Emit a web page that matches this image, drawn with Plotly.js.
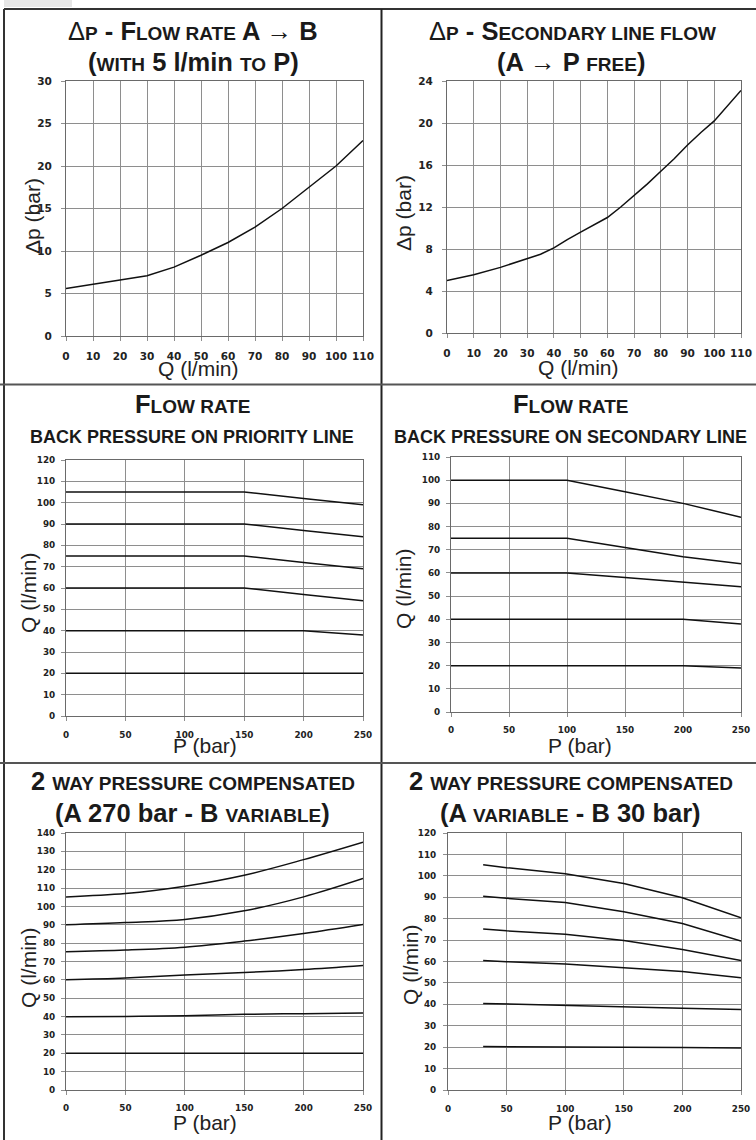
<!DOCTYPE html>
<html>
<head>
<meta charset="utf-8">
<script src="https://cdn.plot.ly/plotly-3.0.1.min.js"></script>
<style>html,body{margin:0;padding:0;background:#fff;}#chart{width:756px;height:1140px;}</style>
</head>
<body>
<div id="chart"></div>
<script>
// ---- Panel 1: Δp - flow rate A→B (with 5 l/min to P)
const qAB  = [0, 10, 20, 30, 40, 50, 60, 70, 80, 90, 100, 110];
const dpAB = [5.6, 6.1, 6.6, 7.1, 8.1, 9.5, 11.0, 12.8, 15.0, 17.5, 20.0, 23.0];

// ---- Panel 2: Δp - secondary line flow (A→P free)
const qSec  = [0, 10, 20, 30, 35, 40, 45, 50, 55, 60, 65, 70, 75, 80, 85, 90, 95, 100, 105, 110];
const dpSec = [5.0, 5.55, 6.25, 7.05, 7.5, 8.1, 8.9, 9.6, 10.3, 11.0, 12.0, 13.1, 14.2, 15.4, 16.6, 17.9, 19.1, 20.2, 21.6, 23.1];

// ---- Panel 3: flow rate, back pressure on priority line
const pPri   = [0, 150, 200, 250];
const pri105 = [105, 105, 102, 99];
const pri90  = [90, 90, 87, 84];
const pri75  = [75, 75, 72, 69];
const pri60  = [60, 60, 57, 54];
const pri40  = [40, 40, 40, 38];
const pri20  = [20, 20, 20, 20];

// ---- Panel 4: flow rate, back pressure on secondary line
const pSecBP = [0, 100, 150, 200, 250];
const sec100 = [100, 100, 95, 90, 84];
const sec75  = [75, 75, 71, 67, 64];
const sec60  = [60, 60, 58, 56, 54];
const sec40  = [40, 40, 40, 40, 38];
const sec20  = [20, 20, 20, 20, 19];

// ---- Panel 5: 2 way pressure compensated (A 270 bar - B variable)
const pB       = [0, 50, 100, 150, 200, 250];
const compB105 = [105.2, 107, 111, 117, 125.5, 135];
const compB90  = [90, 91.2, 92.9, 97.6, 105.2, 115.2];
const compB75  = [75.3, 76.2, 77.8, 81.1, 85.2, 90.1];
const compB60  = [60, 61, 62.6, 64, 65.6, 67.8];
const compB40  = [39.9, 40.1, 40.4, 41.2, 41.6, 42];
const compB20  = [20, 20, 20, 20, 20, 20];

// ---- Panel 6: 2 way pressure compensated (A variable - B 30 bar)
const pA       = [30, 50, 100, 150, 200, 250];
const compA105 = [105.2, 103.8, 101, 96.4, 89.8, 80.4];
const compA90  = [90.5, 89.5, 87.5, 83.2, 77.7, 69.5];
const compA75  = [75.2, 74.3, 72.7, 69.8, 65.6, 60.5];
const compA60  = [60.5, 59.9, 58.8, 57.2, 55.3, 52.4];
const compA40  = [40.4, 40.1, 39.6, 38.9, 38.2, 37.6];
const compA20  = [20.3, 20.2, 20.1, 20.0, 19.8, 19.6];

// ---- tick values
const ticksQ110 = [0, 10, 20, 30, 40, 50, 60, 70, 80, 90, 100, 110];
const ticksP250 = [0, 50, 100, 150, 200, 250];

const W = 756, H = 1140;
const xd = (a, b) => [a / W, b / W];
const yd = (top, bot) => [1 - bot / H, 1 - top / H];
const px = x => x / W;
const py = y => 1 - y / H;

const LINE = {color: '#111', width: 1.5};
function tr(x, y, n, shape) {
  return {x: x, y: y, xaxis: 'x' + (n === 1 ? '' : n), yaxis: 'y' + (n === 1 ? '' : n),
          type: 'scatter', mode: 'lines', line: Object.assign({shape: shape || 'linear'}, LINE),
          hoverinfo: 'skip', showlegend: false};
}

const data = [
  tr(qAB, dpAB, 1),
  tr(qSec, dpSec, 2),
  tr(pPri, pri105, 3), tr(pPri, pri90, 3), tr(pPri, pri75, 3), tr(pPri, pri60, 3), tr(pPri, pri40, 3), tr(pPri, pri20, 3),
  tr(pSecBP, sec100, 4), tr(pSecBP, sec75, 4), tr(pSecBP, sec60, 4), tr(pSecBP, sec40, 4), tr(pSecBP, sec20, 4),
  tr(pB, compB105, 5, 'spline'), tr(pB, compB90, 5, 'spline'), tr(pB, compB75, 5, 'spline'),
  tr(pB, compB60, 5, 'spline'), tr(pB, compB40, 5, 'spline'), tr(pB, compB20, 5, 'spline'),
  tr(pA, compA105, 6), tr(pA, compA90, 6), tr(pA, compA75, 6), tr(pA, compA60, 6), tr(pA, compA40, 6), tr(pA, compA20, 6)
];

function ax(domain, range, dtick, tickvals, size, standoff, anchor) {
  const a = {
    domain: domain, range: range, anchor: anchor,
    showgrid: true, gridcolor: '#8e8e8e', gridwidth: 1,
    showline: true, linecolor: '#6a6a6a', linewidth: 1, mirror: true,
    zeroline: false, ticks: 'outside', ticklen: 4, tickcolor: '#8e8e8e', tickwidth: 1,
    ticklabelstandoff: standoff,
    tickfont: {family: 'DejaVu Sans', size: size, weight: 'bold', color: '#222'},
    fixedrange: true
  };
  if (tickvals) { a.tickmode = 'array'; a.tickvals = tickvals; }
  else { a.tickmode = 'linear'; a.tick0 = 0; a.dtick = dtick; }
  return a;
}

const layout = {
  width: W, height: H,
  margin: {l: 0, r: 0, t: 0, b: 0},
  paper_bgcolor: '#fff', plot_bgcolor: '#fff',
  showlegend: false,
  xaxis:  ax(xd(66, 363), [0, 110], null, ticksQ110, 10.5, 6, 'y'),
  yaxis:  ax(yd(81, 336), [0, 30], 5, null, 10.5, 7, 'x'),
  xaxis2: ax(xd(447, 741), [0, 110], null, ticksQ110, 10.5, 6, 'y2'),
  yaxis2: ax(yd(81, 333), [0, 24], 4, null, 10.5, 7, 'x2'),
  xaxis3: ax(xd(66, 363), [0, 250], null, ticksP250, 8.8, 6, 'y3'),
  yaxis3: ax(yd(460, 716), [0, 120], 10, null, 8.8, 4, 'x3'),
  xaxis4: ax(xd(451, 741), [0, 250], null, ticksP250, 8.8, 5, 'y4'),
  yaxis4: ax(yd(457, 712), [0, 110], 10, null, 8.8, 4, 'x4'),
  xaxis5: ax(xd(66, 363), [0, 250], null, ticksP250, 8.8, 5, 'y5'),
  yaxis5: ax(yd(833, 1090), [0, 140], 10, null, 8.8, 4, 'x5'),
  xaxis6: ax(xd(448, 741), [0, 250], null, ticksP250, 8.8, 6, 'y6'),
  yaxis6: ax(yd(833, 1090), [0, 120], 10, null, 8.8, 5, 'x6'),
  shapes: [],
  annotations: []
};

// frame lines
const S = layout.shapes;
S.push({type: 'rect', xref: 'paper', yref: 'paper', x0: px(4), x1: px(72), y0: py(0), y1: py(7), line: {width: 0}, fillcolor: '#e6e6e6'});
S.push({type: 'line', xref: 'paper', yref: 'paper', x0: px(4), x1: px(756), y0: py(9), y1: py(9), line: {color: '#333', width: 2}});
S.push({type: 'line', xref: 'paper', yref: 'paper', x0: px(4), x1: px(4), y0: py(9), y1: py(1140), line: {color: '#333', width: 2}});
S.push({type: 'line', xref: 'paper', yref: 'paper', x0: px(381.5), x1: px(381.5), y0: py(9), y1: py(1140), line: {color: '#222', width: 2}});
S.push({type: 'line', xref: 'paper', yref: 'paper', x0: px(0), x1: px(756), y0: py(384.5), y1: py(384.5), line: {color: '#555', width: 2}});
S.push({type: 'line', xref: 'paper', yref: 'paper', x0: px(0), x1: px(756), y0: py(763), y1: py(763), line: {color: '#555', width: 2}});

// text
const A = layout.annotations;
const TF = {family: 'Liberation Sans, Arial, sans-serif', size: 25.5, weight: 'bold', color: '#1a1a1a'};
const AF = {family: 'Liberation Sans, Arial, sans-serif', size: 21, color: '#222'};
const sc = t => '<span style="font-size:19px">' + t + '</span>';
const thin = t => '<span style="font-weight:normal">' + t + '</span>';
function txt(x, y, text, font, angle) {
  A.push({xref: 'paper', yref: 'paper', x: px(x), y: py(y), xanchor: 'center', yanchor: 'middle',
          text: text, showarrow: false, font: font, textangle: angle || 0});
}
// titles
txt(193, 31, thin('Δ') + sc('P') + ' - F' + sc('LOW RATE') + ' A ' + thin('→') + ' B', TF);
txt(193, 62, '(' + sc('WITH') + ' 5 l/min ' + sc('TO') + ' P)', TF);
txt(572, 31, thin('Δ') + sc('P') + ' - S' + sc('ECONDARY LINE FLOW'), TF);
txt(571, 62, '(A ' + thin('→') + ' P ' + sc('FREE') + ')', TF);
txt(192.5, 404, 'F' + sc('LOW RATE'), TF);
txt(192, 437, 'BACK PRESSURE ON PRIORITY LINE', Object.assign({}, TF, {size: 18}));
txt(570.5, 404, 'F' + sc('LOW RATE'), TF);
txt(570.5, 437, 'BACK PRESSURE ON SECONDARY LINE', Object.assign({}, TF, {size: 18}));
txt(193, 781, '2 ' + sc('WAY PRESSURE COMPENSATED'), TF);
txt(192, 813, '(A 270 bar - B ' + sc('VARIABLE') + ')', TF);
txt(571, 781, '2 ' + sc('WAY PRESSURE COMPENSATED'), TF);
txt(570.5, 813, '(A ' + sc('VARIABLE') + ' - B 30 bar)', TF);
// axis titles
txt(198, 368, 'Q (l/min)', AF);
txt(578, 367, 'Q (l/min)', AF);
txt(205, 745, 'P (bar)', AF);
txt(580, 745, 'P (bar)', AF);
txt(205, 1122, 'P (bar)', AF);
txt(580, 1122, 'P (bar)', AF);
txt(32, 216, 'Δp (bar)', AF, -90);
txt(403, 213, 'Δp (bar)', AF, -90);
txt(28, 593, 'Q (l/min)', AF, -90);
txt(403, 588, 'Q (l/min)', AF, -90);
txt(28, 968, 'Q (l/min)', AF, -90);
txt(410, 965, 'Q (l/min)', AF, -90);

Plotly.newPlot('chart', data, layout, {displayModeBar: false, staticPlot: true});
</script>
</body>
</html>
